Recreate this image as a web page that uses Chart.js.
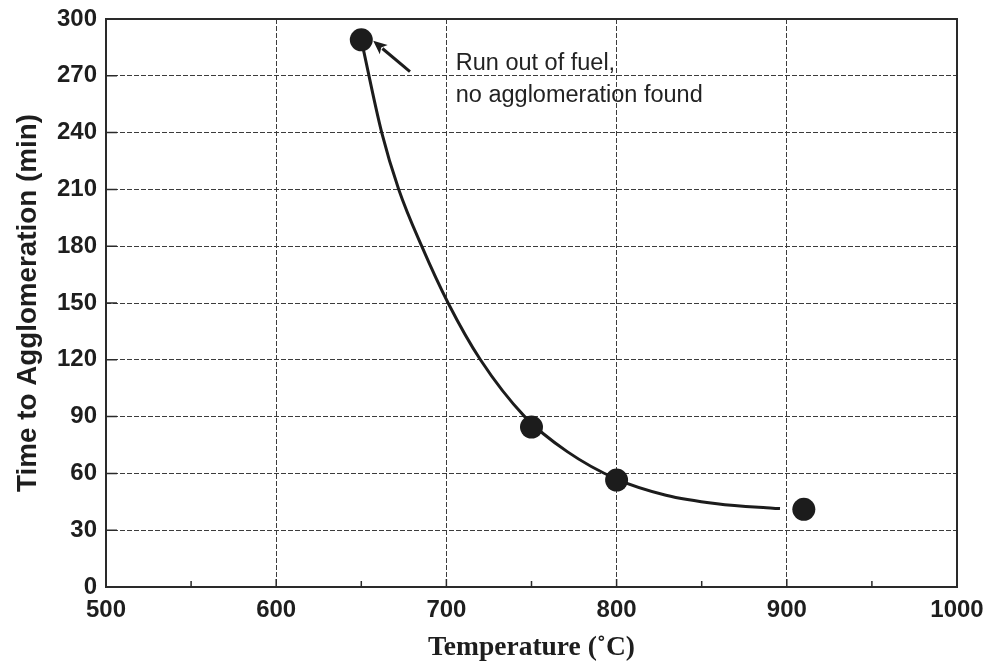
<!DOCTYPE html>
<html>
<head>
<meta charset="utf-8">
<script src="https://cdn.jsdelivr.net/npm/chart.js@4.4.1/dist/chart.umd.min.js"></script>
<style>
  html, body { margin: 0; padding: 0; background: #fff; }
  #wrap { width: 984px; height: 664px; }
</style>
</head>
<body>
<div id="wrap"><canvas id="agglo"></canvas></div>
<script>
// --- Data ---
// measured runs
const runTemp = [650, 750, 800, 910];
const runTime = [289, 84.5, 56.5, 41];

// fitted trend curve
const curveTemp = [650, 662, 672, 685.5, 701, 720, 746, 771, 800, 829, 859, 888, 896];
const curveTime = [289, 240, 210, 180, 150, 120, 90, 71.5, 57, 48.5, 44, 41.8, 41.4];

// axis ticks
const xTicks = [500, 600, 700, 800, 900, 1000];
const xMinorTicks = [550, 650, 750, 850, 950];
const yTicks = [0, 30, 60, 90, 120, 150, 180, 210, 240, 270, 300];

// note on the first run (arrow in data units)
const noteLines = ["Run out of fuel,", "no agglomeration found"];
const noteAnchor = [705.5, 273];
const arrowTail = [678.6, 272.2];
const arrowTip = [657, 288.5];

const ink = "#1c1c1c";

const toXY = (xs, ys) => xs.map((x, i) => ({ x: x, y: ys[i] }));

// frame, inward ticks and the annotation
const framePlugin = {
  id: "frame",
  afterDraw(chart) {
    const { ctx, chartArea: a, scales } = chart;
    const sx = scales.x, sy = scales.y;
    ctx.save();

    ctx.strokeStyle = "#2a2a2a";
    ctx.lineWidth = 1.5;
    ctx.setLineDash([]);
    ctx.beginPath();
    xTicks.forEach((v) => {
      const px = sx.getPixelForValue(v);
      ctx.moveTo(px, a.bottom);
      ctx.lineTo(px, a.bottom - 8);
    });
    xMinorTicks.forEach((v) => {
      const px = sx.getPixelForValue(v);
      ctx.moveTo(px, a.bottom);
      ctx.lineTo(px, a.bottom - 6);
    });
    yTicks.forEach((v) => {
      const py = sy.getPixelForValue(v);
      ctx.moveTo(a.left, py);
      ctx.lineTo(a.left + 11, py);
    });
    ctx.stroke();

    ctx.lineWidth = 2;
    ctx.strokeRect(a.left, a.top, a.right - a.left, a.bottom - a.top);

    // arrow
    const x0 = sx.getPixelForValue(arrowTail[0]), y0 = sy.getPixelForValue(arrowTail[1]);
    const x1 = sx.getPixelForValue(arrowTip[0]), y1 = sy.getPixelForValue(arrowTip[1]);
    const ang = Math.atan2(y1 - y0, x1 - x0);
    const head = 15, spread = 0.42;
    ctx.strokeStyle = ink;
    ctx.fillStyle = ink;
    ctx.lineWidth = 3;
    ctx.beginPath();
    ctx.moveTo(x0, y0);
    ctx.lineTo(x1 - Math.cos(ang) * head * 0.8, y1 - Math.sin(ang) * head * 0.8);
    ctx.stroke();
    ctx.beginPath();
    ctx.moveTo(x1, y1);
    ctx.lineTo(x1 - head * Math.cos(ang - spread), y1 - head * Math.sin(ang - spread));
    ctx.lineTo(x1 - head * 0.7 * Math.cos(ang), y1 - head * 0.7 * Math.sin(ang));
    ctx.lineTo(x1 - head * Math.cos(ang + spread), y1 - head * Math.sin(ang + spread));
    ctx.closePath();
    ctx.fill();

    // note text
    ctx.font = "23.5px 'Liberation Sans', Arial, sans-serif";
    ctx.fillStyle = "#222";
    ctx.textAlign = "left";
    ctx.textBaseline = "alphabetic";
    const tx = sx.getPixelForValue(noteAnchor[0]);
    const ty = sy.getPixelForValue(noteAnchor[1]);
    noteLines.forEach((line, i) => ctx.fillText(line, tx, ty + i * 32));

    ctx.restore();
  },
};

const tickFont = { family: "'Liberation Sans', Arial, sans-serif", size: 24, weight: "bold" };

new Chart(document.getElementById("agglo"), {
  type: "scatter",
  data: {
    datasets: [
      {
        label: "runs",
        data: toXY(runTemp, runTime),
        pointRadius: 11.5,
        pointHoverRadius: 11.5,
        pointBackgroundColor: ink,
        pointBorderColor: ink,
        pointBorderWidth: 0,
        showLine: false,
        order: 0,
      },
      {
        label: "trend",
        data: toXY(curveTemp, curveTime),
        showLine: true,
        pointRadius: 0,
        borderColor: ink,
        borderWidth: 3,
        cubicInterpolationMode: "monotone",
        order: 1,
      },
    ],
  },
  options: {
    responsive: true,
    maintainAspectRatio: false,
    animation: false,
    layout: { padding: { top: 19, right: 27, bottom: 0, left: 12 } },
    plugins: {
      legend: { display: false },
      tooltip: { enabled: false },
    },
    scales: {
      x: {
        type: "linear",
        min: 500,
        max: 1000,
        afterBuildTicks: (s) => { s.ticks = xTicks.map((v) => ({ value: v })); },
        afterFit: (s) => {
          s.height = 77;
          s.paddingLeft = 0;
          s.paddingRight = 0;
        },
        grid: { color: "#3c3c3c", lineWidth: 1, drawTicks: false },
        border: { display: false, dash: [5, 2] },
        ticks: { color: "#1e1e1e", font: tickFont, padding: 9, maxRotation: 0, callback: (v) => String(v) },
        title: {
          display: true,
          text: "Temperature (˚C)",
          color: "#1e1e1e",
          font: { family: "'Liberation Serif', 'Times New Roman', serif", size: 27.5, weight: "bold" },
          padding: { top: 0, bottom: 0 },
        },
      },
      y: {
        min: 0,
        max: 300,
        afterBuildTicks: (s) => { s.ticks = yTicks.map((v) => ({ value: v })); },
        afterFit: (s) => {
          s.width = 94;
          s.paddingTop = 0;
          s.paddingBottom = 0;
        },
        grid: { color: "#3c3c3c", lineWidth: 1, drawTicks: false },
        border: { display: false, dash: [5, 2] },
        ticks: { color: "#1e1e1e", font: tickFont, padding: 9, callback: (v) => String(v) },
        title: {
          display: true,
          text: "Time to Agglomeration (min)",
          color: "#1e1e1e",
          font: { family: "'Liberation Sans', Arial, sans-serif", size: 27.8, weight: "bold" },
          padding: { top: 0, bottom: 0 },
        },
      },
    },
  },
  plugins: [framePlugin],
});
</script>
</body>
</html>
